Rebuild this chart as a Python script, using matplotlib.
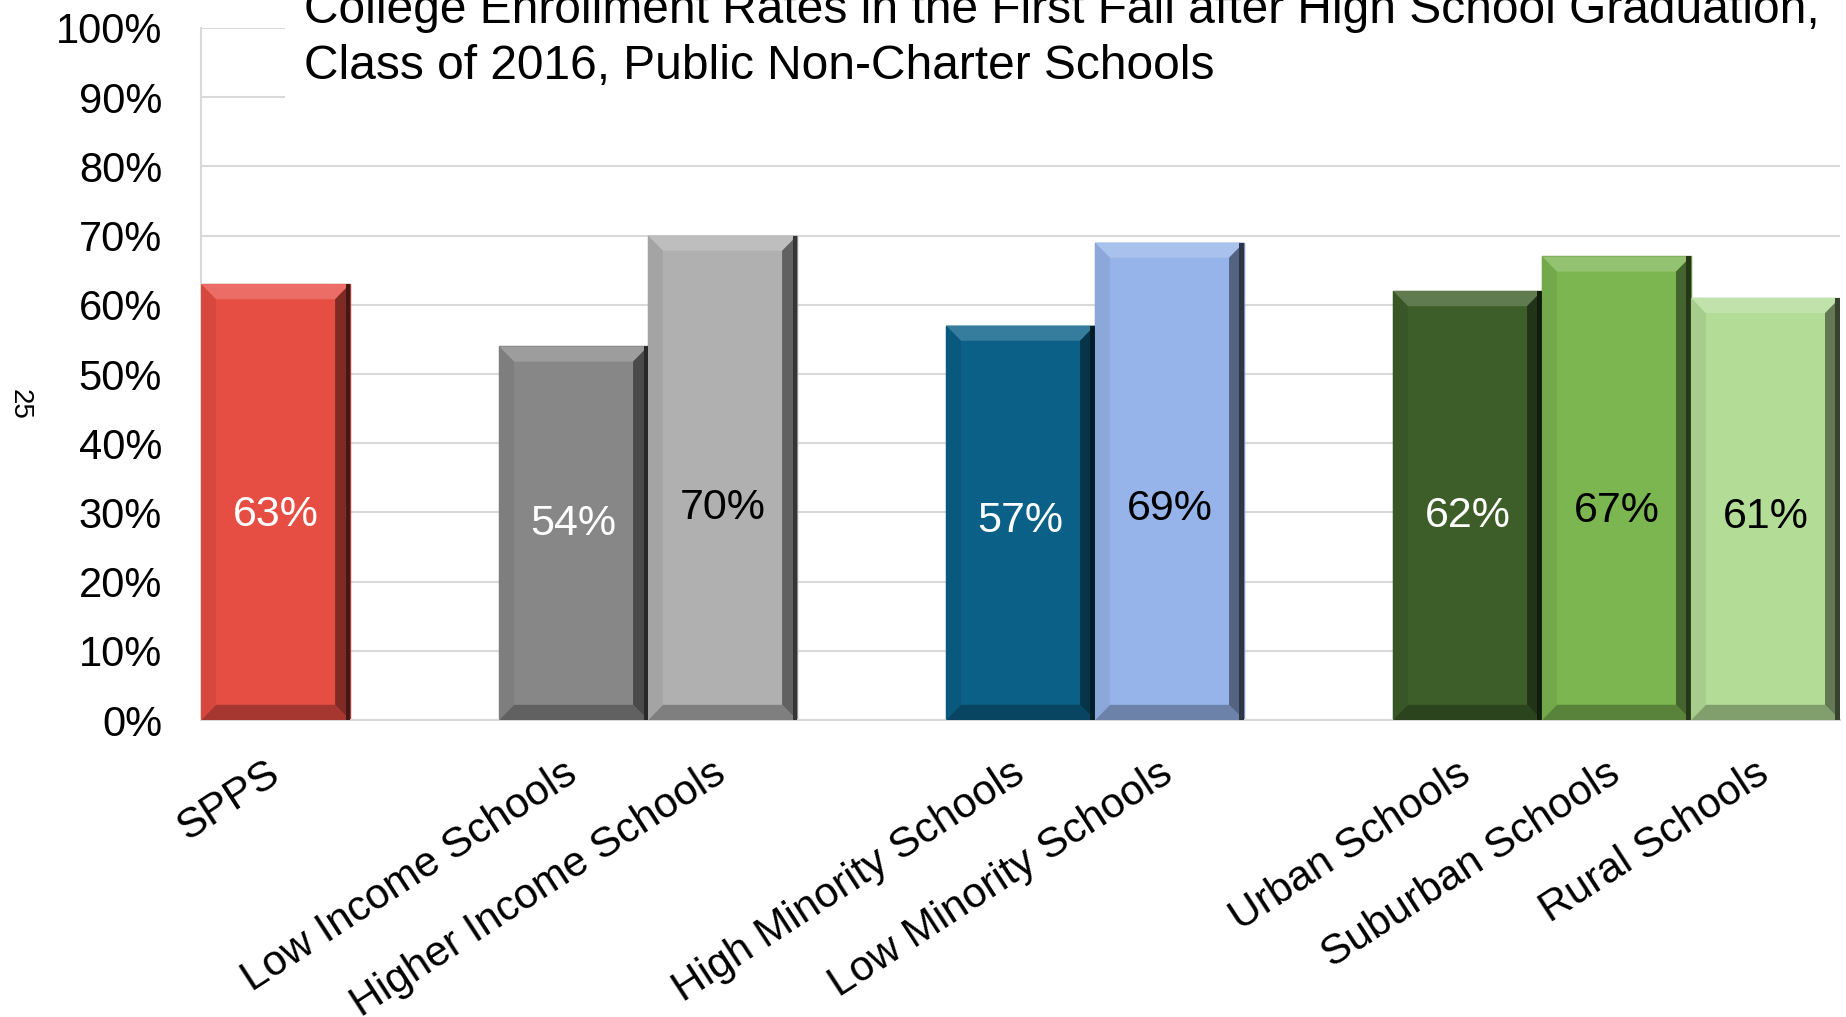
import numpy as np
import matplotlib.pyplot as plt
from matplotlib.patches import Polygon, Rectangle
from matplotlib.colors import to_rgb
from matplotlib.transforms import ScaledTranslation

plt.rcParams['font.family'] = ['Liberation Sans', 'DejaVu Sans']

groups = [
    ['SPPS'],
    ['Low Income Schools', 'Higher Income Schools'],
    ['High Minority Schools', 'Low Minority Schools'],
    ['Urban Schools', 'Suburban Schools', 'Rural Schools'],
]
rates = [63, 54, 70, 57, 69, 62, 67, 61]
bar_colors = ['#E64D43', '#878787', '#B0B0B0', '#0A6087',
              '#96B4E9', '#3D5E29', '#7BB651', '#B3DC97']
label_colors = ['white', 'white', 'black', 'white',
                'black', 'white', 'black', 'black']
title_lines = ['College Enrollment Rates in the First Fall after High School Graduation,',
               'Class of 2016, Public Non-Charter Schools']
yticks = np.arange(0, 101, 10)

# one empty slot between groups
names, xpos = [], []
slot = 0
for g in groups:
    for name in g:
        names.append(name)
        xpos.append(slot)
        slot += 1
    slot += 1


def shade(c, f):
    r = np.array(to_rgb(c))
    if f < 1:
        return tuple(r * f)
    return tuple(r + (1 - r) * (f - 1))


fig = plt.figure(figsize=(18.46, 10.17), dpi=100)
ax = fig.add_axes([0.1089, 0.292, 0.8878, 0.6805])

bars = ax.bar(xpos, rates, width=1.0, color=bar_colors, zorder=2,
              edgecolor=[shade(c, 0.8) for c in bar_colors], linewidth=1)

# bevel edges on each bar
bx, by = 0.1, 2.2
for rect, c in zip(bars, bar_colors):
    x0 = rect.get_x()
    x1 = x0 + rect.get_width()
    h = rect.get_height()
    faces = [
        ([(x0, h), (x1, h), (x1 - bx, h - by), (x0 + bx, h - by)], shade(c, 1.18)),
        ([(x0, 0), (x1, 0), (x1 - bx, by), (x0 + bx, by)], shade(c, 0.72)),
        ([(x0, 0), (x0, h), (x0 + bx, h - by), (x0 + bx, by)], shade(c, 0.93)),
        ([(x1, 0), (x1, h), (x1 - bx, h - by), (x1 - bx, by)], shade(c, 0.55)),
    ]
    for pts, fc in faces:
        ax.add_patch(Polygon(pts, closed=True, facecolor=fc, edgecolor='none', zorder=3))
    ax.add_patch(Polygon([(x1 - 0.03, 0), (x1 - 0.03, h), (x1, h), (x1, 0)],
                         closed=True, facecolor=shade(c, 0.3), edgecolor='none', zorder=3))

for x, v, tc in zip(xpos, rates, label_colors):
    ax.text(x, 20.8 + 0.14 * v, f'{v}%', ha='center', va='center',
            fontsize=31, color=tc, zorder=5)

ax.set_xlim(-0.5, slot - 1.5)
ax.set_ylim(0, 100)
ax.set_yticks(yticks)
ax.set_yticklabels([f'{t}%' for t in yticks], fontsize=30)
ax.set_xticks(xpos)
ax.set_xticklabels(names, rotation=33, ha='right', rotation_mode='anchor', fontsize=30.5)
ax.tick_params(axis='both', length=0)
ax.tick_params(axis='y', pad=28)
ax.tick_params(axis='x', pad=24)

# nudge the slanted category names a little to the left
nudge = ScaledTranslation(-0.11, 0, fig.dpi_scale_trans)
for lbl in ax.get_xticklabels():
    lbl.set_transform(lbl.get_transform() + nudge)

ax.yaxis.grid(True, color='#D9D9D9', linewidth=1.5)
ax.set_axisbelow(True)
for s in ['top', 'right']:
    ax.spines[s].set_visible(False)
for s in ['left', 'bottom']:
    ax.spines[s].set_color('#D9D9D9')
    ax.spines[s].set_linewidth(1.5)

# white panel behind the title
fig.add_artist(Rectangle((0.1544, 0.885), 0.85, 0.2, transform=fig.transFigure,
                         facecolor='white', edgecolor='none', zorder=2))
fig.text(0.1647, 0.9774, title_lines[0], fontsize=34.5, va='baseline', zorder=3)
fig.text(0.1647, 0.9223, title_lines[1], fontsize=34.5, va='baseline', zorder=3)

fig.text(0.0108, 0.6028, '25', fontsize=20, rotation=270, ha='center', va='center')

fig.savefig('out.png', dpi=100)
